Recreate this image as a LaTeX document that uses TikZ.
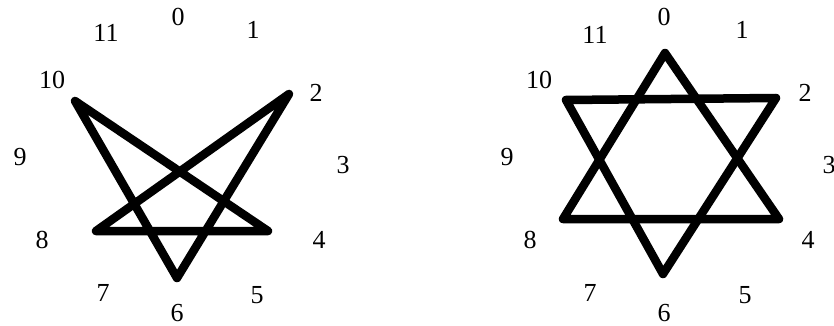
\documentclass[tikz,border=0pt]{standalone}
\usepackage{fontspec}
\setmainfont{Liberation Serif}
\begin{document}
\begin{tikzpicture}[x=1pt,y=-1pt,
  lbl/.style={font=\fontsize{26}{26}\selectfont, inner sep=0pt, anchor=center},
  starline/.style={line width=8.5pt, line join=round, line cap=round, black}]
\useasboundingbox (0,0) rectangle (834,326);
\fill[white] (0,0) rectangle (834,326);
% left panel labels
\node[lbl] (l0) at (178,17) {0};
\node[lbl] (l1) at (253,30) {1};
\node[lbl] (l11) at (106,33) {11};
\node[lbl] (l10) at (52,80) {10};
\node[lbl] (l2) at (316,93) {2};
\node[lbl] (l9) at (20,157) {9};
\node[lbl] (l3) at (343,165) {3};
\node[lbl] (l8) at (42,240) {8};
\node[lbl] (l4) at (319,240) {4};
\node[lbl] (l7) at (103,293) {7};
\node[lbl] (l6) at (177,313) {6};
\node[lbl] (l5) at (257,295) {5};
% left star vertices
\coordinate (L10) at (75,101);
\coordinate (L2) at (289,94);
\coordinate (L8) at (96,231);
\coordinate (L4) at (268,231);
\coordinate (L6) at (177,278);
\draw[starline] (L10) -- (L4) -- (L8) -- (L2) -- (L6) -- cycle;
% right panel labels
\node[lbl] (r0) at (664,17) {0};
\node[lbl] (r1) at (742,30) {1};
\node[lbl] (r11) at (595,35) {11};
\node[lbl] (r10) at (539,80) {10};
\node[lbl] (r2) at (805,93) {2};
\node[lbl] (r9) at (507,157) {9};
\node[lbl] (r3) at (829,165) {3};
\node[lbl] (r8) at (530,240) {8};
\node[lbl] (r4) at (808,240) {4};
\node[lbl] (r7) at (590,293) {7};
\node[lbl] (r6) at (664,313) {6};
\node[lbl] (r5) at (745,295) {5};
% right star vertices
\coordinate (R0) at (665,53);
\coordinate (R2) at (776,98);
\coordinate (R10) at (566,100);
\coordinate (R8) at (563,219);
\coordinate (R4) at (779,219);
\coordinate (R6) at (663,274);
\draw[starline] (R0) -- (R4) -- (R8) -- cycle;
\draw[starline] (R10) -- (R2) -- (R6) -- cycle;
\end{tikzpicture}
\end{document}
